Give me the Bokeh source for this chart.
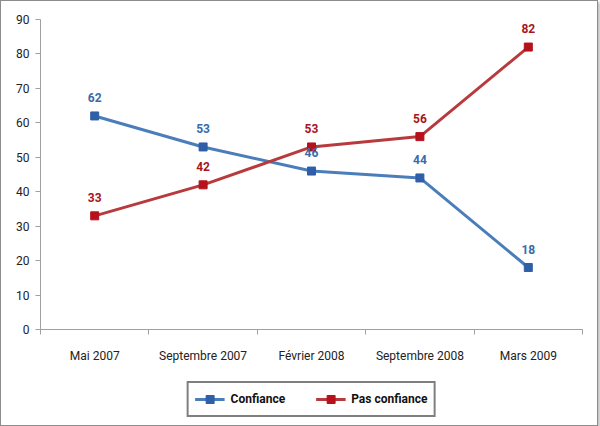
from bokeh.plotting import figure
from bokeh.layouts import column
from bokeh.core.properties import value
from bokeh.models import FixedTicker, Legend, LegendItem, Range1d, LabelSet, ColumnDataSource
from bokeh.embed import file_html
from bokeh.resources import INLINE

categories = ["Mai 2007", "Septembre 2007", "Février 2008", "Septembre 2008", "Mars 2009"]
confiance = [62, 53, 46, 44, 18]
pas_confiance = [33, 42, 53, 56, 82]
y_ticks = [0, 10, 20, 30, 40, 50, 60, 70, 80, 90]
series_names = ["Confiance", "Pas confiance"]

FONT = "Roboto"
BLUE_LINE = "#4a7ebb"
BLUE_MARK = "#2f5fa6"
RED_LINE = "#b83a3d"
RED_MARK = "#b5121b"

x = list(range(1, len(categories) + 1))

p = figure(width=596, height=372, output_backend="svg", toolbar_location=None,
           x_range=Range1d(0.5, len(categories) + 0.5), y_range=Range1d(0, 90),
           min_border_left=39, min_border_right=15, min_border_top=18, min_border_bottom=44)
p.outline_line_color = None
p.xgrid.grid_line_color = None
p.ygrid.grid_line_color = None
p.background_fill_color = "white"
p.border_fill_color = "white"

# x axis
p.xaxis.ticker = FixedTicker(ticks=x, minor_ticks=[i + 0.5 for i in range(0, len(categories) + 1)])
p.xaxis.major_label_overrides = {i: c for i, c in zip(x, categories)}
p.xaxis.major_tick_out = 0
p.xaxis.major_tick_in = 0
p.xaxis.minor_tick_out = 5
p.xaxis.minor_tick_in = 0
p.xaxis.minor_tick_line_color = "#a0a0a0"
p.xaxis.axis_line_color = "#a0a0a0"
p.xaxis.major_label_standoff = 14
p.xaxis.major_label_text_font = FONT
p.xaxis.major_label_text_font_size = "12px"
p.xaxis.major_label_text_color = "#222222"

# y axis
p.yaxis.ticker = FixedTicker(ticks=y_ticks)
p.yaxis.minor_tick_line_color = None
p.yaxis.major_tick_out = 5
p.yaxis.major_tick_in = 0
p.yaxis.major_tick_line_color = "#a0a0a0"
p.yaxis.axis_line_color = "#a0a0a0"
p.yaxis.major_label_text_font = FONT
p.yaxis.major_label_text_font_size = "12px"
p.yaxis.major_label_text_color = "#222222"
p.yaxis.major_label_standoff = 6

src = ColumnDataSource(dict(x=x, c=confiance, pc=pas_confiance,
                            cl=[str(v) for v in confiance], pcl=[str(v) for v in pas_confiance]))

p.line("x", "c", source=src, line_color=BLUE_LINE, line_width=3)
p.scatter("x", "c", source=src, marker="square", size=8, fill_color=BLUE_MARK, line_color=BLUE_MARK)
p.line("x", "pc", source=src, line_color=RED_LINE, line_width=3)
p.scatter("x", "pc", source=src, marker="square", size=8, fill_color=RED_MARK, line_color=RED_MARK)

lab1 = LabelSet(x="x", y="c", text="cl", source=src, y_offset=14, text_align="center",
                text_font=value(FONT), text_font_size="12px", text_color="#3a6aa8",
                text_font_style="bold")
lab2 = LabelSet(x="x", y="pc", text="pcl", source=src, y_offset=14, text_align="center",
                text_font=value(FONT), text_font_size="12px", text_color="#a8151c",
                text_font_style="bold")
p.add_layout(lab1)
p.add_layout(lab2)

# legend strip (placeholder glyphs sit outside the visible range; only their legend icons show)
leg = figure(width=596, height=52, output_backend="svg", toolbar_location=None,
             x_range=Range1d(0, 1), y_range=Range1d(0, 1),
             x_axis_type=None, y_axis_type=None,
             min_border_left=0, min_border_right=0, min_border_top=0, min_border_bottom=0)
leg.outline_line_color = None
leg.xgrid.grid_line_color = None
leg.ygrid.grid_line_color = None
leg.border_fill_color = "white"
ll1 = leg.line([-5, -4], [-5, -4], line_color=BLUE_LINE, line_width=3)
lm1 = leg.scatter([-5], [-5], marker="square", size=8, fill_color=BLUE_MARK, line_color=BLUE_MARK)
ll2 = leg.line([-5, -4], [-5, -4], line_color=RED_LINE, line_width=3)
lm2 = leg.scatter([-5], [-5], marker="square", size=8, fill_color=RED_MARK, line_color=RED_MARK)

legend = Legend(items=[LegendItem(label=series_names[0], renderers=[ll1, lm1]),
                       LegendItem(label=series_names[1], renderers=[ll2, lm2])],
                orientation="horizontal", location="center",
                border_line_color="black", border_line_width=2,
                label_text_font=FONT, label_text_font_size="12px", label_text_font_style="bold",
                label_text_color="#111111",
                glyph_width=30, spacing=30, padding=6, margin=0, label_standoff=6,
                background_fill_alpha=1)
leg.add_layout(legend, "center")

layout = column(p, leg, spacing=0,
                styles={"border": "1px solid #8c8c8c", "box-shadow": "2px 2px 3px #bbbbbb",
                        "background": "white"})

open("out.html", "w").write(file_html(layout, INLINE))
